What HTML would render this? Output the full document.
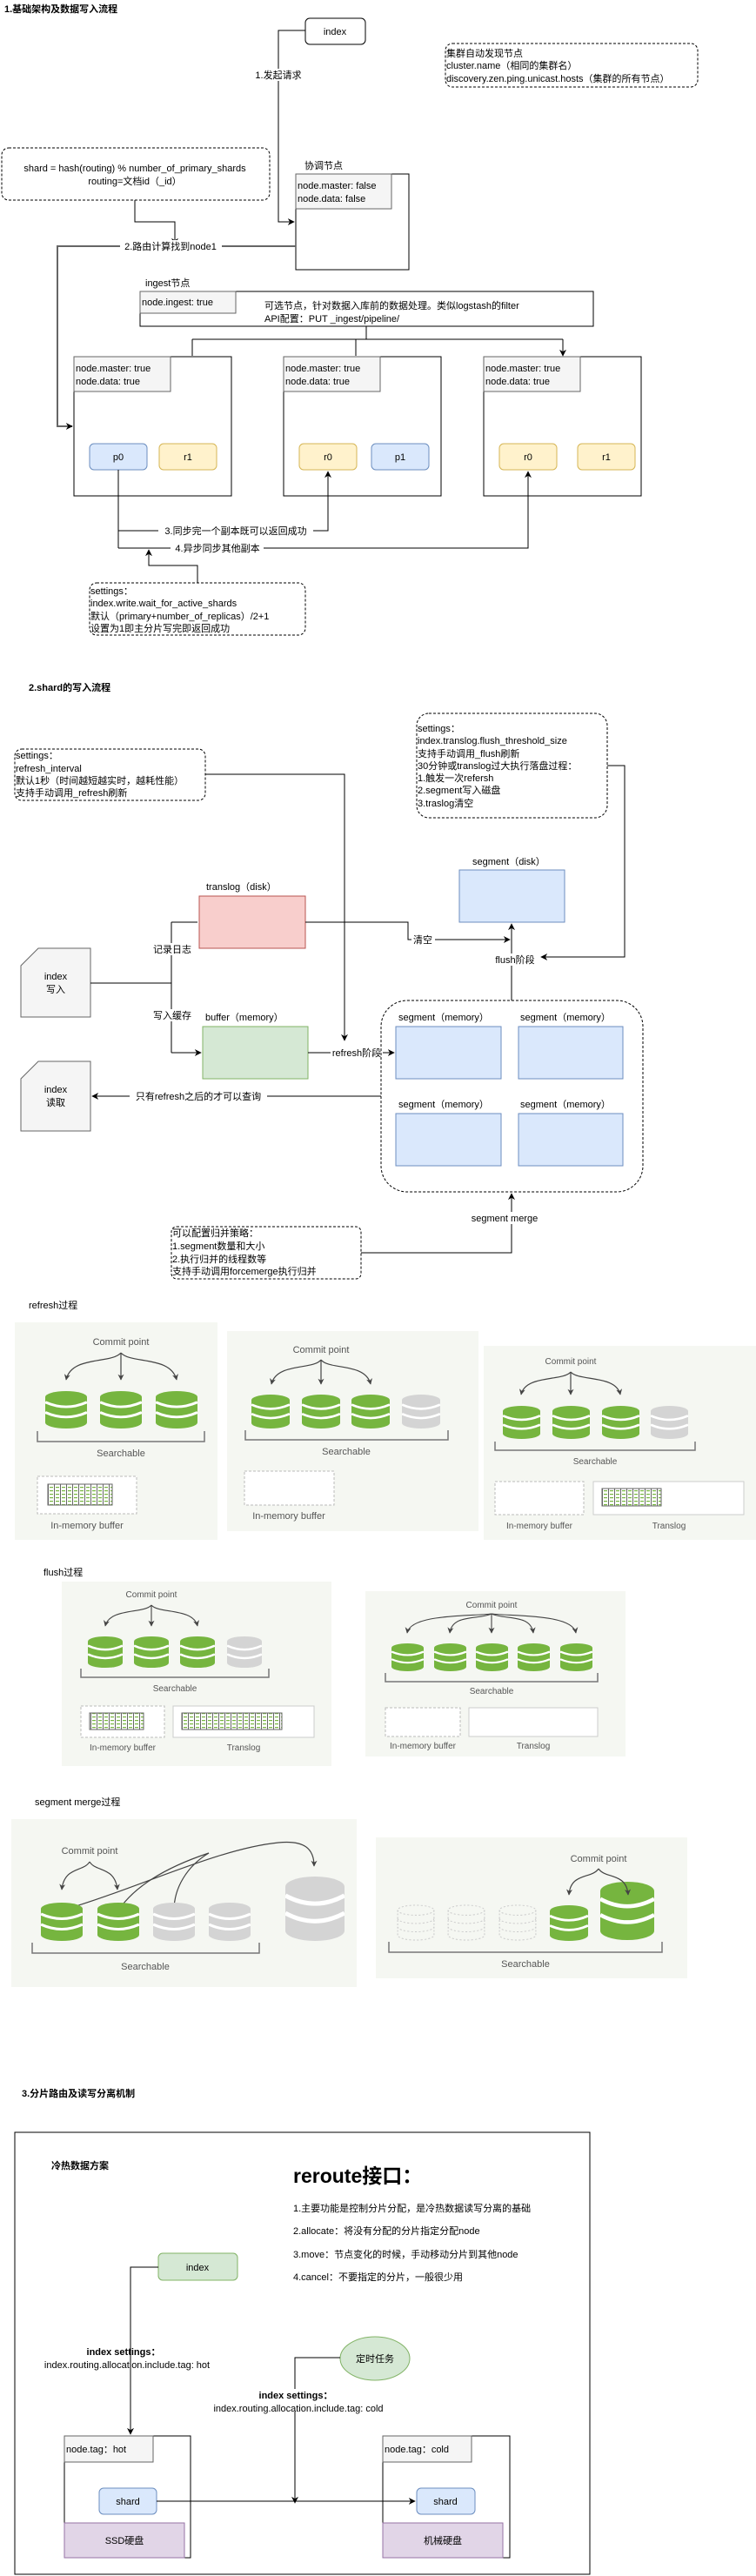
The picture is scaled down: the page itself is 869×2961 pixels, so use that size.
<!DOCTYPE html>
<html><head><meta charset="utf-8"><style>
html,body{margin:0;padding:0;background:#fff}
svg{display:block}
text{font-family:"Liberation Sans","Noto Sans CJK SC",sans-serif;font-size:11px;fill:#000}
.b{font-weight:bold}
.g{fill:#555;font-size:11px}
.s10{font-size:10px}
</style></head><body>
<svg width="869" height="2961" viewBox="0 0 869 2961" xmlns="http://www.w3.org/2000/svg">
<defs>
<marker id="a" viewBox="0 0 10 10" refX="9" refY="5" markerWidth="8" markerHeight="8" markerUnits="userSpaceOnUse" orient="auto"><path d="M0,0L10,5L0,10L3,5z" fill="#000"/></marker>
<marker id="ag" viewBox="0 0 10 10" refX="9" refY="5" markerWidth="7" markerHeight="7" markerUnits="userSpaceOnUse" orient="auto"><path d="M0,0L10,5L0,10L3,5z" fill="#444"/></marker>
<symbol id="cg" viewBox="0 0 40 44" preserveAspectRatio="none"><rect x="0" y="7" width="40" height="30" fill="#76b53f"/><ellipse cx="20" cy="7" rx="20" ry="7" fill="#76b53f"/><ellipse cx="20" cy="37" rx="20" ry="7" fill="#76b53f"/><path d="M0,13 Q20,24 40,13 M0,25 Q20,36 40,25" stroke="#fff" stroke-width="3" fill="none"/></symbol>
<symbol id="cy" viewBox="0 0 40 44" preserveAspectRatio="none"><rect x="0" y="7" width="40" height="30" fill="#d4d4d4"/><ellipse cx="20" cy="7" rx="20" ry="7" fill="#d4d4d4"/><ellipse cx="20" cy="37" rx="20" ry="7" fill="#d4d4d4"/><path d="M0,13 Q20,24 40,13 M0,25 Q20,36 40,25" stroke="#fff" stroke-width="3" fill="none"/></symbol>
<symbol id="cd" viewBox="0 0 40 44" preserveAspectRatio="none"><g fill="none" stroke="#ccc" stroke-dasharray="2 2"><ellipse cx="20" cy="7" rx="19" ry="6"/><path d="M1,7V37 A19,6 0 0 0 39,37V7 M1,17 A19,6 0 0 0 39,17 M1,27 A19,6 0 0 0 39,27"/></g></symbol>
<pattern id="doc" width="7" height="4" patternUnits="userSpaceOnUse"><rect width="7" height="4" fill="#fff"/><rect x="1" y="1" width="4" height="1.2" fill="#76b53f"/><rect x="6" y="0" width="1" height="4" fill="#666"/></pattern>
</defs>

<!-- ================= Section 1 ================= -->
<text x="5" y="14" class="b">1.基础架构及数据写入流程</text>
<rect x="351" y="21" width="69" height="30" rx="5" fill="#fff" stroke="#000"/>
<text x="385" y="40" text-anchor="middle">index</text>
<path d="M351,35H320V255H338" fill="none" stroke="#000" marker-end="url(#a)"/>
<rect x="290" y="79" width="60" height="14" fill="#fff"/>
<text x="320" y="90" text-anchor="middle">1.发起请求</text>

<rect x="512" y="50" width="290" height="50" rx="8" fill="none" stroke="#000" stroke-dasharray="3 2"/>
<text x="513" y="65">集群自动发现节点</text>
<text x="513" y="79">cluster.name（相同的集群名）</text>
<text x="513" y="94">discovery.zen.ping.unicast.hosts（集群的所有节点）</text>

<rect x="2" y="170" width="308" height="60" rx="8" fill="none" stroke="#000" stroke-dasharray="3 2"/>
<text x="155" y="197" text-anchor="middle">shard = hash(routing) % number_of_primary_shards</text>
<text x="155" y="212" text-anchor="middle">routing=文档id（_id）</text>
<path d="M155,230V255H201V281" fill="none" stroke="#000" marker-end="url(#a)"/>

<text x="350" y="194">协调节点</text>
<rect x="340" y="200" width="130" height="110" fill="#fff" stroke="#000"/>
<rect x="340" y="200" width="110" height="40" fill="#f5f5f5" stroke="#666"/>
<text x="342" y="217">node.master: false</text>
<text x="342" y="232">node.data: false</text>

<path d="M340,283H66V490H83" fill="none" stroke="#666" stroke-width="2" marker-end="url(#a)"/>
<rect x="138" y="276" width="117" height="14" fill="#fff"/>
<text x="196" y="287" text-anchor="middle">2.路由计算找到node1</text>

<text x="167" y="329">ingest节点</text>
<rect x="161" y="335" width="521" height="40" fill="#fff" stroke="#000"/>
<rect x="161" y="335" width="110" height="25" fill="#f5f5f5" stroke="#666"/>
<text x="163" y="351">node.ingest: true</text>
<text x="304" y="355">可选节点，针对数据入库前的数据处理。类似logstash的filter</text>
<text x="304" y="370">API配置：PUT _ingest/pipeline/</text>
<path d="M421,375V390M221,390H647" fill="none" stroke="#000"/>
<path d="M221,390V409M409,390V409M647,390V409" fill="none" stroke="#000" marker-end="url(#a)"/>

<g>
<rect x="85" y="410" width="181" height="160" fill="#fff" stroke="#000"/>
<rect x="85" y="410" width="111" height="40" fill="#f5f5f5" stroke="#666"/>
<text x="87" y="427">node.master: true</text><text x="87" y="442">node.data: true</text>
<rect x="326" y="410" width="181" height="160" fill="#fff" stroke="#000"/>
<rect x="326" y="410" width="111" height="40" fill="#f5f5f5" stroke="#666"/>
<text x="328" y="427">node.master: true</text><text x="328" y="442">node.data: true</text>
<rect x="556" y="410" width="181" height="160" fill="#fff" stroke="#000"/>
<rect x="556" y="410" width="111" height="40" fill="#f5f5f5" stroke="#666"/>
<text x="558" y="427">node.master: true</text><text x="558" y="442">node.data: true</text>
</g>
<rect x="103" y="510" width="66" height="30" rx="5" fill="#dae8fc" stroke="#6c8ebf"/><text x="136" y="529" text-anchor="middle">p0</text>
<rect x="183" y="510" width="66" height="30" rx="5" fill="#fff2cc" stroke="#d6b656"/><text x="216" y="529" text-anchor="middle">r1</text>
<rect x="344" y="510" width="66" height="30" rx="5" fill="#fff2cc" stroke="#d6b656"/><text x="377" y="529" text-anchor="middle">r0</text>
<rect x="427" y="510" width="66" height="30" rx="5" fill="#dae8fc" stroke="#6c8ebf"/><text x="460" y="529" text-anchor="middle">p1</text>
<rect x="574" y="510" width="66" height="30" rx="5" fill="#fff2cc" stroke="#d6b656"/><text x="607" y="529" text-anchor="middle">r0</text>
<rect x="664" y="510" width="66" height="30" rx="5" fill="#fff2cc" stroke="#d6b656"/><text x="697" y="529" text-anchor="middle">r1</text>

<path d="M136,540V630" fill="none" stroke="#000"/>
<path d="M136,610H377V542" fill="none" stroke="#000" marker-end="url(#a)"/>
<path d="M136,630H607V542" fill="none" stroke="#000" marker-end="url(#a)"/>
<rect x="182" y="603" width="178" height="14" fill="#fff"/>
<text x="271" y="614" text-anchor="middle">3.同步完一个副本既可以返回成功</text>
<rect x="196" y="623" width="107" height="14" fill="#fff"/>
<text x="250" y="634" text-anchor="middle">4.异步同步其他副本</text>
<path d="M227,670V650H171V632" fill="none" stroke="#000" marker-end="url(#a)"/>
<rect x="103" y="670" width="248" height="60" rx="8" fill="none" stroke="#000" stroke-dasharray="3 2"/>
<text x="104" y="683">settings：</text>
<text x="104" y="697">index.write.wait_for_active_shards</text>
<text x="104" y="712">默认（primary+number_of_replicas）/2+1</text>
<text x="104" y="726">设置为1即主分片写完即返回成功</text>

<!-- ================= Section 2 ================= -->
<text x="33" y="794" class="b">2.shard的写入流程</text>
<rect x="17" y="861" width="219" height="59" rx="8" fill="none" stroke="#000" stroke-dasharray="3 2"/>
<text x="18" y="872">settings：</text>
<text x="18" y="887">refresh_interval</text>
<text x="18" y="901">默认1秒（时间越短越实时，越耗性能）</text>
<text x="18" y="915">支持手动调用_refresh刷新</text>
<path d="M236,890H396V1196" fill="none" stroke="#000" marker-end="url(#a)"/>

<rect x="479" y="820" width="219" height="120" rx="14" fill="none" stroke="#000" stroke-dasharray="3 2"/>
<text x="480" y="841">settings：</text>
<text x="480" y="855">index.translog.flush_threshold_size</text>
<text x="480" y="870">支持手动调用_flush刷新</text>
<text x="480" y="884">30分钟或translog过大执行落盘过程：</text>
<text x="480" y="898">1.触发一次refersh</text>
<text x="480" y="912">2.segment写入磁盘</text>
<text x="480" y="927">3.traslog清空</text>
<path d="M698,880H718V1100H622" fill="none" stroke="#000" marker-end="url(#a)"/>

<text x="543" y="994">segment（disk）</text>
<rect x="528" y="1000" width="121" height="60" fill="#dae8fc" stroke="#6c8ebf"/>
<text x="237" y="1023">translog（disk）</text>
<rect x="229" y="1030" width="122" height="60" fill="#f8cecc" stroke="#b85450"/>
<path d="M351,1060H469V1080H586" fill="none" stroke="#000" marker-end="url(#a)"/>
<rect x="473" y="1073" width="27" height="14" fill="#fff"/>
<text x="475" y="1084">清空</text>
<path d="M588,1150V1062" fill="none" stroke="#000" marker-end="url(#a)"/>
<rect x="566" y="1096" width="52" height="14" fill="#fff"/>
<text x="592" y="1107" text-anchor="middle">flush阶段</text>

<polygon points="44,1090 104,1090 104,1169 24,1169 24,1110" fill="#f5f5f5" stroke="#666"/>
<text x="64" y="1126" text-anchor="middle">index</text><text x="64" y="1141" text-anchor="middle">写入</text>
<polygon points="44,1220 104,1220 104,1300 24,1300 24,1240" fill="#f5f5f5" stroke="#666"/>
<text x="64" y="1256" text-anchor="middle">index</text><text x="64" y="1271" text-anchor="middle">读取</text>
<path d="M104,1130H197M197,1060V1210" fill="none" stroke="#000"/>
<path d="M197,1060H227M197,1210H231" fill="none" stroke="#000" marker-end="url(#a)"/>
<rect x="174" y="1084" width="48" height="14" fill="#fff"/>
<text x="198" y="1095" text-anchor="middle">记录日志</text>
<rect x="174" y="1160" width="48" height="14" fill="#fff"/>
<text x="198" y="1171" text-anchor="middle">写入缓存</text>

<text x="236" y="1173">buffer（memory）</text>
<rect x="233" y="1180" width="121" height="60" fill="#d5e8d4" stroke="#82b366"/>
<path d="M354,1210H453" fill="none" stroke="#000" marker-end="url(#a)"/>
<rect x="380" y="1203" width="60" height="14" fill="#fff"/>
<text x="410" y="1214" text-anchor="middle">refresh阶段</text>

<rect x="438" y="1150" width="301" height="220" rx="30" fill="none" stroke="#000" stroke-dasharray="3 2"/>
<text x="458" y="1173">segment（memory）</text>
<text x="598" y="1173">segment（memory）</text>
<rect x="455" y="1180" width="121" height="60" fill="#dae8fc" stroke="#6c8ebf"/>
<rect x="596" y="1180" width="120" height="60" fill="#dae8fc" stroke="#6c8ebf"/>
<text x="458" y="1273">segment（memory）</text>
<text x="598" y="1273">segment（memory）</text>
<rect x="455" y="1280" width="121" height="60" fill="#dae8fc" stroke="#6c8ebf"/>
<rect x="596" y="1280" width="120" height="60" fill="#dae8fc" stroke="#6c8ebf"/>

<path d="M438,1260H106" fill="none" stroke="#000" marker-end="url(#a)"/>
<rect x="149" y="1253" width="158" height="14" fill="#fff"/>
<text x="228" y="1264" text-anchor="middle">只有refresh之后的才可以查询</text>

<path d="M415,1440H588V1372" fill="none" stroke="#000" marker-end="url(#a)"/>
<rect x="537" y="1393" width="88" height="14" fill="#fff"/>
<text x="580" y="1404" text-anchor="middle">segment merge</text>
<rect x="197" y="1410" width="218" height="60" rx="6" fill="#fff" stroke="#000" stroke-dasharray="3 2"/>
<text x="198" y="1421">可以配置归并策略：</text>
<text x="198" y="1436">1.segment数量和大小</text>
<text x="198" y="1451">2.执行归并的线程数等</text>
<text x="198" y="1465">支持手动调用forcemerge执行归并</text>

<!-- ================= refresh ================= -->
<text x="33" y="1504">refresh过程</text>
<rect x="17" y="1520" width="233" height="250" fill="#f5f7f2"/>
<text x="139" y="1546" text-anchor="middle" class="g">Commit point</text>
<g fill="none" stroke="#444" stroke-width="1.2">
<path d="M139,1555C128,1568 82,1558 76,1586" marker-end="url(#ag)"/>
<path d="M139,1555V1586" marker-end="url(#ag)"/>
<path d="M139,1555C150,1568 196,1558 203,1586" marker-end="url(#ag)"/>
</g>
<use href="#cg" x="52" y="1599" width="48" height="43"/>
<use href="#cg" x="115" y="1599" width="48" height="43"/>
<use href="#cg" x="179" y="1599" width="48" height="43"/>
<path d="M43,1645V1657H235V1645" fill="none" stroke="#777" stroke-width="1.5"/>
<text x="139" y="1674" text-anchor="middle" class="g">Searchable</text>
<rect x="43" y="1697" width="114" height="43" fill="#fff" stroke="#bbb" stroke-dasharray="3 2"/>
<rect x="55" y="1706" width="74" height="24" fill="url(#doc)" stroke="#666"/>
<text x="100" y="1757" text-anchor="middle" class="g">In-memory buffer</text>

<rect x="261" y="1530" width="289" height="230" fill="#f5f7f2"/>
<text x="369" y="1555" text-anchor="middle" class="g">Commit point</text>
<g fill="none" stroke="#444" stroke-width="1.2">
<path d="M369,1563C360,1575 318,1566 312,1591" marker-end="url(#ag)"/>
<path d="M369,1563V1591" marker-end="url(#ag)"/>
<path d="M369,1563C378,1575 420,1566 426,1591" marker-end="url(#ag)"/>
</g>
<use href="#cg" x="289" y="1603" width="44" height="39"/>
<use href="#cg" x="347" y="1603" width="44" height="39"/>
<use href="#cg" x="404" y="1603" width="44" height="39"/>
<use href="#cy" x="462" y="1603" width="44" height="39"/>
<path d="M282,1644V1655H515V1644" fill="none" stroke="#777" stroke-width="1.5"/>
<text x="398" y="1672" text-anchor="middle" class="g">Searchable</text>
<rect x="281" y="1691" width="103" height="39" fill="#fff" stroke="#bbb" stroke-dasharray="3 2"/>
<text x="332" y="1746" text-anchor="middle" class="g">In-memory buffer</text>

<rect x="556" y="1547" width="313" height="223" fill="#f5f7f2"/>
<text x="656" y="1568" text-anchor="middle" class="g s10">Commit point</text>
<g fill="none" stroke="#444" stroke-width="1.2">
<path d="M656,1577C647,1588 604,1580 599,1603" marker-end="url(#ag)"/>
<path d="M656,1577V1603" marker-end="url(#ag)"/>
<path d="M656,1577C665,1588 708,1580 713,1603" marker-end="url(#ag)"/>
</g>
<use href="#cg" x="578" y="1616" width="43" height="38"/>
<use href="#cg" x="635" y="1616" width="43" height="38"/>
<use href="#cg" x="692" y="1616" width="43" height="38"/>
<use href="#cy" x="748" y="1616" width="43" height="38"/>
<path d="M569,1657V1667H799V1657" fill="none" stroke="#777" stroke-width="1.5"/>
<text x="684" y="1683" text-anchor="middle" class="g s10">Searchable</text>
<rect x="569" y="1703" width="102" height="38" fill="#fff" stroke="#bbb" stroke-dasharray="3 2"/>
<rect x="682" y="1703" width="173" height="38" fill="#fff" stroke="#ccc"/>
<rect x="692" y="1711" width="68" height="20" fill="url(#doc)" stroke="#666"/>
<text x="620" y="1757" text-anchor="middle" class="g s10">In-memory buffer</text>
<text x="769" y="1757" text-anchor="middle" class="g s10">Translog</text>

<!-- ================= flush ================= -->
<text x="50" y="1811">flush过程</text>
<rect x="71" y="1818" width="310" height="212" fill="#f5f7f2"/>
<text x="174" y="1836" text-anchor="middle" class="g s10">Commit point</text>
<g fill="none" stroke="#444" stroke-width="1.1">
<path d="M174,1845C166,1855 126,1848 121,1869" marker-end="url(#ag)"/>
<path d="M174,1845V1869" marker-end="url(#ag)"/>
<path d="M174,1845C182,1855 222,1848 227,1869" marker-end="url(#ag)"/>
</g>
<use href="#cg" x="101" y="1881" width="40" height="36"/>
<use href="#cg" x="154" y="1881" width="40" height="36"/>
<use href="#cg" x="207" y="1881" width="40" height="36"/>
<use href="#cy" x="261" y="1881" width="40" height="36"/>
<path d="M93,1918V1928H309V1918" fill="none" stroke="#777" stroke-width="1.5"/>
<text x="201" y="1944" text-anchor="middle" class="g s10">Searchable</text>
<rect x="93" y="1961" width="96" height="36" fill="#fff" stroke="#bbb" stroke-dasharray="3 2"/>
<rect x="103" y="1969" width="62" height="19" fill="url(#doc)" stroke="#666"/>
<rect x="199" y="1961" width="162" height="36" fill="#fff" stroke="#ccc"/>
<rect x="209" y="1969" width="115" height="19" fill="url(#doc)" stroke="#666"/>
<text x="141" y="2012" text-anchor="middle" class="g s10">In-memory buffer</text>
<text x="280" y="2012" text-anchor="middle" class="g s10">Translog</text>

<rect x="420" y="1829" width="299" height="190" fill="#f5f7f2"/>
<text x="565" y="1848" text-anchor="middle" class="g s10">Commit point</text>
<g fill="none" stroke="#444" stroke-width="1.1">
<path d="M565,1855C540,1858 472,1855 468,1877" marker-end="url(#ag)"/>
<path d="M565,1855C550,1862 520,1855 517,1877" marker-end="url(#ag)"/>
<path d="M565,1855V1877" marker-end="url(#ag)"/>
<path d="M565,1855C580,1862 610,1855 613,1877" marker-end="url(#ag)"/>
<path d="M565,1855C590,1858 658,1855 662,1877" marker-end="url(#ag)"/>
</g>
<use href="#cg" x="450" y="1889" width="37" height="32"/>
<use href="#cg" x="499" y="1889" width="37" height="32"/>
<use href="#cg" x="547" y="1889" width="37" height="32"/>
<use href="#cg" x="595" y="1889" width="37" height="32"/>
<use href="#cg" x="644" y="1889" width="37" height="32"/>
<path d="M443,1923V1933H687V1923" fill="none" stroke="#777" stroke-width="1.5"/>
<text x="565" y="1947" text-anchor="middle" class="g s10">Searchable</text>
<rect x="443" y="1963" width="86" height="33" fill="#fff" stroke="#bbb" stroke-dasharray="3 2"/>
<rect x="539" y="1963" width="148" height="33" fill="#fff" stroke="#ccc"/>
<text x="486" y="2010" text-anchor="middle" class="g s10">In-memory buffer</text>
<text x="613" y="2010" text-anchor="middle" class="g s10">Translog</text>

<!-- ================= segment merge ================= -->
<text x="40" y="2075">segment merge过程</text>
<rect x="13" y="2091" width="397" height="193" fill="#f5f7f2"/>
<text x="103" y="2131" text-anchor="middle" class="g">Commit point</text>
<g fill="none" stroke="#444" stroke-width="1.2">
<path d="M103,2140C96,2152 74,2145 71,2172" marker-end="url(#ag)"/>
<path d="M103,2140C110,2152 132,2145 135,2172" marker-end="url(#ag)"/>
<path d="M71,2196C160,2170 250,2125 320,2118C350,2115 361,2125 361,2145" marker-end="url(#ag)"/>
<path d="M136,2196C160,2160 210,2140 240,2130"/>
<path d="M200,2196C200,2170 215,2145 240,2130"/>
</g>
<use href="#cg" x="47" y="2187" width="48" height="44"/>
<use href="#cg" x="112" y="2187" width="48" height="44"/>
<use href="#cy" x="176" y="2187" width="48" height="44"/>
<use href="#cy" x="240" y="2187" width="48" height="44"/>
<use href="#cy" x="328" y="2157" width="68" height="74"/>
<path d="M37,2233V2245H298V2233" fill="none" stroke="#777" stroke-width="1.5"/>
<text x="167" y="2264" text-anchor="middle" class="g">Searchable</text>

<rect x="432" y="2112" width="358" height="162" fill="#f5f7f2"/>
<text x="688" y="2140" text-anchor="middle" class="g">Commit point</text>
<use href="#cd" x="456" y="2189" width="44" height="42"/>
<use href="#cd" x="514" y="2189" width="44" height="42"/>
<use href="#cd" x="573" y="2189" width="44" height="42"/>
<use href="#cg" x="632" y="2190" width="44" height="41"/>
<use href="#cg" x="690" y="2163" width="62" height="67"/>
<g fill="none" stroke="#444" stroke-width="1.2">
<path d="M688,2148C680,2160 656,2152 654,2178" marker-end="url(#ag)"/>
<path d="M688,2148C696,2160 720,2152 722,2178" marker-end="url(#ag)"/>
</g>
<path d="M447,2232V2244H761V2232" fill="none" stroke="#777" stroke-width="1.5"/>
<text x="604" y="2261" text-anchor="middle" class="g">Searchable</text>

<!-- ================= Section 3 ================= -->
<text x="25" y="2410" class="b">3.分片路由及读写分离机制</text>
<rect x="17" y="2451" width="661" height="508" fill="#fff" stroke="#000"/>
<text x="59" y="2493" class="b">冷热数据方案</text>
<text x="337" y="2509" class="b" style="font-size:23px">reroute接口：</text>
<text x="337" y="2542">1.主要功能是控制分片分配，是冷热数据读写分离的基础</text>
<text x="337" y="2568">2.allocate：将没有分配的分片指定分配node</text>
<text x="337" y="2595">3.move：节点变化的时候，手动移动分片到其他node</text>
<text x="337" y="2621">4.cancel：不要指定的分片，一般很少用</text>

<rect x="182" y="2590" width="91" height="31" rx="5" fill="#d5e8d4" stroke="#82b366"/>
<text x="227" y="2610" text-anchor="middle">index</text>
<path d="M182,2606H150V2798" fill="none" stroke="#000" marker-end="url(#a)"/>
<text x="142" y="2707" text-anchor="middle" class="b">index settings：</text>
<text x="146" y="2722" text-anchor="middle">index.routing.allocation.include.tag: hot</text>

<ellipse cx="431" cy="2711" rx="40" ry="25" fill="#d5e8d4" stroke="#82b366"/>
<text x="431" y="2715" text-anchor="middle">定时任务</text>
<path d="M391,2710H339V2746M339,2772V2876" fill="none" stroke="#000"/>
<path d="M339,2866V2877" fill="none" stroke="#000" marker-end="url(#a)"/>
<text x="340" y="2757" text-anchor="middle" class="b">index settings：</text>
<text x="343" y="2772" text-anchor="middle">index.routing.allocation.include.tag: cold</text>

<rect x="74" y="2800" width="145" height="140" fill="#fff" stroke="#000"/>
<rect x="74" y="2800" width="102" height="30" fill="#f5f5f5" stroke="#666"/>
<text x="76" y="2819">node.tag：hot</text>
<rect x="114" y="2860" width="66" height="30" rx="5" fill="#dae8fc" stroke="#6c8ebf"/>
<text x="147" y="2879" text-anchor="middle">shard</text>
<rect x="74" y="2900" width="138" height="40" fill="#e1d5e7" stroke="#9673a6"/>
<text x="143" y="2924" text-anchor="middle">SSD硬盘</text>

<rect x="440" y="2800" width="146" height="140" fill="#fff" stroke="#000"/>
<rect x="440" y="2800" width="102" height="30" fill="#f5f5f5" stroke="#666"/>
<text x="442" y="2819">node.tag：cold</text>
<rect x="479" y="2860" width="67" height="30" rx="5" fill="#dae8fc" stroke="#6c8ebf"/>
<text x="512" y="2879" text-anchor="middle">shard</text>
<rect x="440" y="2900" width="138" height="40" fill="#e1d5e7" stroke="#9673a6"/>
<text x="509" y="2924" text-anchor="middle">机械硬盘</text>
<path d="M180,2875H477" fill="none" stroke="#000" marker-end="url(#a)"/>
</svg>
</body></html>
